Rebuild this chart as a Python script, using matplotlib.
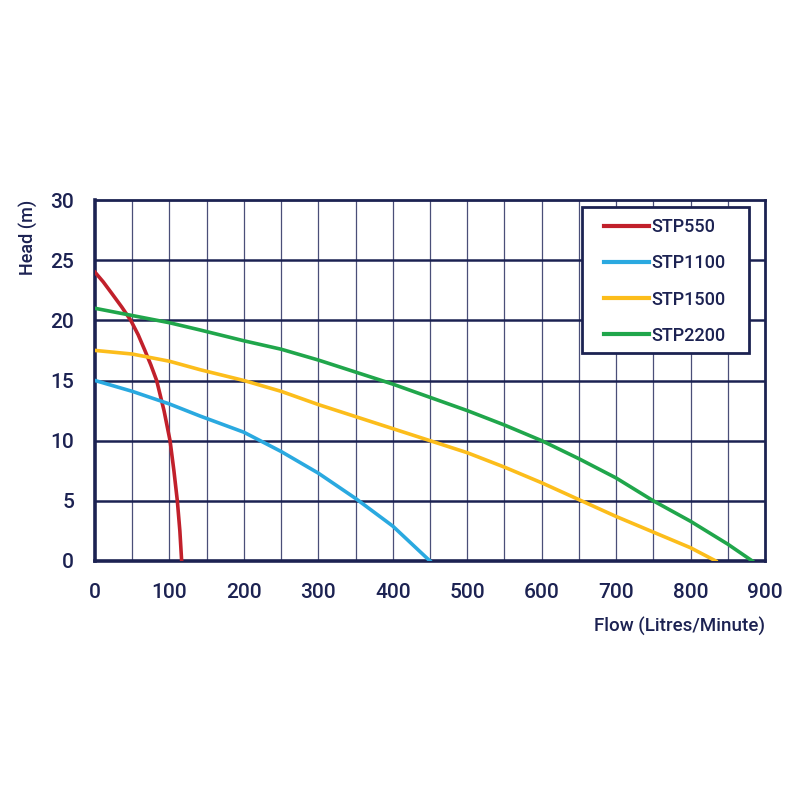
import numpy as np
import matplotlib.pyplot as plt
from matplotlib.patches import Rectangle

plt.rcParams['font.family'] = ['Roboto', 'DejaVu Sans']
plt.rcParams['font.weight'] = 'medium'

NAVY = '#1c2252'

# pump curves (flow L/min, head m)
stp550_q = [0, 11, 22.4, 36, 48, 58, 67, 75, 82.8, 92.7, 100.8, 106, 110.6, 114, 116.4]
stp550_h = [24, 23.2, 22.25, 21.1, 20, 18.8, 17.5, 16.3, 15, 12.5, 10, 7.5, 5, 2.5, 0]

stp1100_q = [0, 50, 100, 141, 200, 250, 300, 350, 400, 450]
stp1100_h = [15, 14.1, 13.05, 12.05, 10.7, 9.1, 7.3, 5.2, 2.9, 0]

stp1500_q = [0, 50, 100, 141, 200, 250, 300, 350, 400, 450, 500, 550, 600, 650, 700, 750, 800, 834]
stp1500_h = [17.5, 17.2, 16.6, 15.9, 15.0, 14.1, 13.0, 12.0, 11.0, 10.0, 9.0, 7.8, 6.5, 5.1, 3.7, 2.4, 1.1, 0]

stp2200_q = [0, 50, 100, 141, 200, 250, 300, 350, 400, 450, 500, 550, 600, 650, 700, 750, 800, 850, 883]
stp2200_h = [21, 20.4, 19.8, 19.2, 18.3, 17.6, 16.7, 15.7, 14.7, 13.6, 12.5, 11.3, 10.0, 8.5, 6.9, 5.0, 3.3, 1.4, 0]

series = [
    ('STP550', stp550_q, stp550_h, '#c1202b'),
    ('STP1100', stp1100_q, stp1100_h, '#2aa9e0'),
    ('STP1500', stp1500_q, stp1500_h, '#fcbd1b'),
    ('STP2200', stp2200_q, stp2200_h, '#20a64b'),
]

fig = plt.figure(figsize=(8, 8), dpi=100)
ax = fig.add_axes([0.11875, 0.29875, 0.8375, 0.45125])

for name, q, h, c in series:
    ax.plot(q, h, color=c, lw=2.6, label=name, zorder=3, solid_joinstyle='round')

ax.set_xlim(0, 900)
ax.set_ylim(0, 30)
ax.set_xticks(np.arange(0, 901, 100))
ax.set_yticks(np.arange(0, 31, 5))

# grid
for x in np.arange(50, 900, 50):
    ax.axvline(x, color='#4a4f78', lw=0.9, zorder=1)
for y in np.arange(5, 30, 5):
    ax.axhline(y, color=NAVY, lw=1.8, zorder=1)

for side in ['left', 'bottom']:
    ax.spines[side].set_linewidth(2.6)
for side in ['top', 'right']:
    ax.spines[side].set_linewidth(2.0)
for s in ax.spines.values():
    s.set_color(NAVY)

ax.tick_params(length=0, labelsize=15, labelcolor=NAVY)
ax.tick_params(axis='x', pad=15.5)
ax.tick_params(axis='y', pad=15)

ax.set_xlabel('Flow (Litres/Minute)', loc='right', fontsize=13.5, color=NAVY,
              labelpad=11, fontweight='medium')
ax.set_ylabel('Head (m)', loc='top', fontsize=13, color=NAVY, labelpad=9,
              fontweight='medium')

# legend box drawn by hand so the padding matches
ax.add_patch(Rectangle((0.7269, 0.5762), 0.2491, 0.4044, transform=ax.transAxes,
                       facecolor='white', edgecolor=NAVY, lw=2.0, zorder=4))
leg = ax.legend(loc='upper left', bbox_to_anchor=(0.7597, 0.949), borderaxespad=0,
                borderpad=0, fontsize=13, frameon=False,
                handlelength=2.5, handletextpad=0.12, labelspacing=1.0)
leg.set_zorder(5)
for t in leg.get_texts():
    t.set_color(NAVY)
for l in leg.get_lines():
    l.set_linewidth(3)

fig.savefig('out.png', dpi=100, facecolor='white')
